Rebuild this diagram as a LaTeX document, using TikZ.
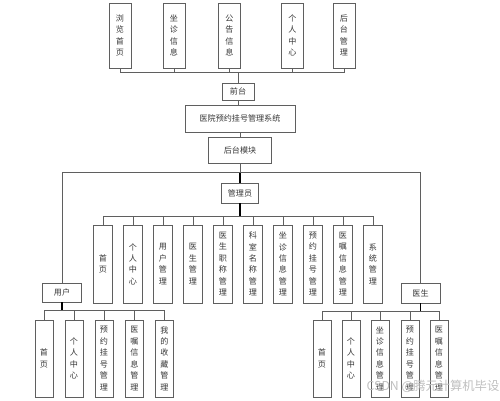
\documentclass[tikz,border=0pt]{standalone}
\usepackage{fontspec}
\setmainfont{Noto Sans CJK SC}
\usetikzlibrary{positioning}
\definecolor{line}{RGB}{95,95,95}
\definecolor{txt}{RGB}{55,55,55}

\begin{document}
\begin{tikzpicture}[x=.02cm,y=-.02cm,
  box/.style={draw=line,line width=.55pt,fill=white,inner sep=0pt,align=center,text=txt,font=\fontsize{4.6}{6.5}\selectfont},
  topbox/.style={box,minimum width=.44cm,minimum height=1.3cm},
  adbox/.style={box,minimum width=.38cm,minimum height=1.56cm},
  kidbox/.style={box,minimum width=.36cm,minimum height=1.54cm},
  link/.style={draw=line,line width=.55pt}]
\useasboundingbox (0,0) rectangle (500,400);
% front end
\node[topbox] (t1) at (120,35.5) {浏\\览\\首\\页};
\node[topbox] (t2) at (174,35.5) {坐\\诊\\信\\息};
\node[topbox] (t3) at (229.5,35.5) {公\\告\\信\\息};
\node[topbox] (t4) at (292.5,35.5) {个\\人\\中\\心};
\node[topbox] (t5) at (344,35.5) {后\\台\\管\\理};
\node[box,minimum width=.64cm,minimum height=.34cm] (front) at (238,91.5) {前台};
\node[box,minimum width=2.2cm,minimum height=.54cm] (sys) at (240,118.5) {医院预约挂号管理系统};
\node[box,minimum width=1.26cm,minimum height=.52cm] (back) at (240,150) {后台模块};
\coordinate (topbus) at (238,72);
\foreach \n in {t1,t2,t3,t4,t5} \draw[link] (\n.south) |- (topbus);
\draw[link] (topbus) -- (front);
\draw[link] (front) -- (front|-sys.north);
\draw[link] (sys) -- (back);
% roles
\node[box,minimum width=.74cm,minimum height=.4cm] (admin) at (240,193) {管理员};
\node[box,minimum width=.78cm,minimum height=.38cm] (user) at (62,292.5) {用户};
\node[box,minimum width=.78cm,minimum height=.4cm] (doctor) at (420.5,293) {医生};
\coordinate (midbus) at (240,172);
\draw[link] (back) -- (midbus);
\draw[link,draw=black,line width=.8pt] (midbus) -- (admin);
\draw[link] (midbus) -| (user);
\draw[link] (midbus) -| (doctor);
% admin
\node[adbox] (a1) at (103,264) {首\\页};
\node[adbox] (a2) at (133,264) {个\\人\\中\\心};
\node[adbox] (a3) at (163,264) {用\\户\\管\\理};
\node[adbox] (a4) at (193,264) {医\\生\\管\\理};
\node[adbox] (a5) at (223,264) {医\\生\\职\\称\\管\\理};
\node[adbox] (a6) at (253,264) {科\\室\\名\\称\\管\\理};
\node[adbox] (a7) at (283,264) {坐\\诊\\信\\息\\管\\理};
\node[adbox] (a8) at (313,264) {预\\约\\挂\\号\\管\\理};
\node[adbox] (a9) at (343,264) {医\\嘱\\信\\息\\管\\理};
\node[adbox] (a10) at (373,264) {系\\统\\管\\理};
\coordinate (adbus) at (240,216);
\draw[link,draw=black,line width=.8pt] (admin) -- (adbus);
\foreach \n in {a1,a2,a3,a4,a5,a6,a7,a8,a9,a10} \draw[link] (\n.north) |- (adbus);
% user
\node[kidbox] (u1) at (44,358.5) {首\\页};
\node[kidbox] (u2) at (74,358.5) {个\\人\\中\\心};
\node[kidbox] (u3) at (104,358.5) {预\\约\\挂\\号\\管\\理};
\node[kidbox] (u4) at (134.5,358.5) {医\\嘱\\信\\息\\管\\理};
\node[kidbox] (u5) at (164.5,358.5) {我\\的\\收\\藏\\管\\理};
\coordinate (usbus) at (62,310);
\draw[link,draw=black,line width=.8pt] (user) -- (usbus);
\foreach \n in {u1,u2,u3,u4,u5} \draw[link] (\n.north) |- (usbus);
% doctor
\node[kidbox] (d1) at (322,358.5) {首\\页};
\node[kidbox] (d2) at (351,358.5) {个\\人\\中\\心};
\node[kidbox] (d3) at (380,358.5) {坐\\诊\\信\\息\\管\\理};
\node[kidbox] (d4) at (410,358.5) {预\\约\\挂\\号\\管\\理};
\node[kidbox] (d5) at (439,358.5) {医\\嘱\\信\\息\\管\\理};
\coordinate (docbus) at (420.5,311);
\draw[link,draw=black,line width=.8pt] (doctor) -- (docbus);
\foreach \n in {d1,d2,d3,d4,d5} \draw[link] (\n.north) |- (docbus);
\node[text=black!25,font=\fontsize{7}{7}\selectfont] (mark) at (433,386) {CSDN @腾元计算机毕设};
\end{tikzpicture}
\end{document}
